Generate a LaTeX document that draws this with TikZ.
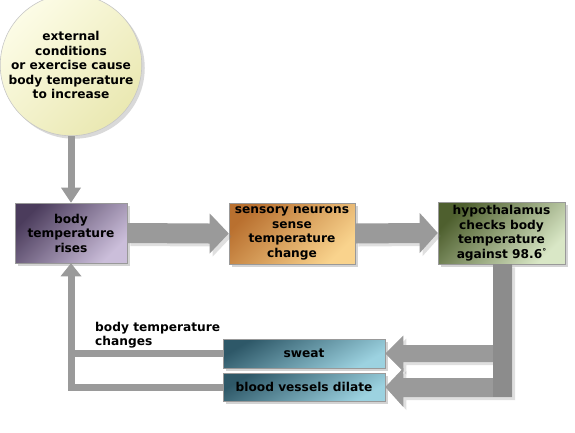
\documentclass[tikz,border=0pt]{standalone}
\usepackage{fontspec}
\setmainfont{DejaVu Sans}
\usetikzlibrary{shadows,calc}
\definecolor{arrowgray}{HTML}{9A9A9A}
\definecolor{stemgray}{HTML}{8C8C8C}
\definecolor{purpleD}{HTML}{4B3C5C}
\definecolor{purpleL}{HTML}{CBBEDA}
\definecolor{orangeD}{HTML}{B9702F}
\definecolor{orangeL}{HTML}{F9D38D}
\definecolor{greenD}{HTML}{4E5F2E}
\definecolor{greenL}{HTML}{D9E7C6}
\definecolor{tealD}{HTML}{2E5868}
\definecolor{tealL}{HTML}{9CD2E0}
\definecolor{yellowL}{HTML}{FCFCE6}
\definecolor{yellowD}{HTML}{EAE8B2}
\begin{document}
\begin{tikzpicture}[x=1pt,y=-1pt,
  txt/.style={font=\bfseries\fontsize{12.2}{14.5}\selectfont, align=center, text=black, inner sep=0pt},
  stepbox/.style={txt, draw=gray!80, line width=0.6pt, minimum width=#1, drop shadow={shadow xshift=3pt, shadow yshift=-3pt, opacity=0.35}},
  fatarrow/.style={fill=arrowgray, draw=none, drop shadow={shadow xshift=3pt, shadow yshift=-3pt, opacity=0.25}},
  thinline/.style={draw=arrowgray, line width=7pt},
  thinhead/.style={fill=arrowgray, draw=none}
]
\useasboundingbox (0,0) rectangle (575,432);

% circle
\node[txt, circle, draw=gray!45, line width=0.6pt, minimum size=127pt,
  left color=yellowL, right color=yellowD, shading angle=45,
  drop shadow={shadow xshift=3pt, shadow yshift=-3pt, opacity=0.3}]
  (start) at (71,65) {external\\conditions\\or exercise cause\\body temperature\\to increase};

% boxes
\node[stepbox=112pt, minimum height=60pt, left color=purpleD, right color=purpleL, shading angle=45]
  (rise) at (71,233) {body\\temperature\\rises};
\node[stepbox=126pt, minimum height=61pt, left color=orangeD, right color=orangeL, shading angle=45]
  (sense) at (292,233.5) {sensory neurons\\sense\\temperature\\change};
\node[stepbox=127pt, minimum height=62pt, left color=greenD, right color=greenL, shading angle=45]
  (hypo) at (501.5,233) {hypothalamus\\checks body\\temperature\\against 98.6\raisebox{0.5ex}{\fontsize{8}{8}\selectfont °}};
\node[stepbox=162pt, minimum height=29pt, left color=tealD, right color=tealL, shading angle=30]
  (sweat) at (304,353.5) {sweat};
\node[stepbox=162pt, minimum height=28pt, left color=tealD, right color=tealL, shading angle=30]
  (dilate) at (304,387) {blood vessels dilate};

% thin arrow from circle to rise
\draw[thinline] (start.south) -- ($(rise.north)+(0,-14)$);
\fill[thinhead] ($(rise.north)+(-10,-15)$) -- (rise.north) -- ($(rise.north)+(10,-15)$) -- cycle;

% fat arrow rise -> sense
\path[fatarrow] ($(rise.east)+(0,-10)$) -- ($(sense.west)+(-19,-10)$) -- ($(sense.west)+(-19,-20)$)
  -- (sense.west) -- ($(sense.west)+(-19,20)$) -- ($(sense.west)+(-19,10)$) -- ($(rise.east)+(0,10)$) -- cycle;
% fat arrow sense -> hypo
\path[fatarrow] ($(sense.east)+(0,-10)$) -- ($(hypo.west)+(-18,-10)$) -- ($(hypo.west)+(-18,-20)$)
  -- (hypo.west) -- ($(hypo.west)+(-18,20)$) -- ($(hypo.west)+(-18,10)$) -- ($(sense.east)+(0,10)$) -- cycle;

% big arrow from hypo down to sweat and dilate
\coordinate (stemL) at ($(hypo.south)+(-8.5,0)$);
\coordinate (stemR) at ($(hypo.south)+(10.5,0)$);
\path[fatarrow] (stemL) -- (stemR) -- (stemR |- 0,397) -- ($(dilate.east)+(18,10)$) -- ($(dilate.east)+(18,20)$)
  -- (dilate.east) -- ($(dilate.east)+(18,-19)$) -- ($(dilate.east)+(18,-9)$) -- (stemL |- 0,378) -- cycle;
\path[fatarrow] (stemL |- 0,345) -- (stemL |- 0,362) -- ($(sweat.east)+(18,8.5)$) -- ($(sweat.east)+(18,18)$)
  -- (sweat.east) -- ($(sweat.east)+(18,-18)$) -- ($(sweat.east)+(18,-8.5)$) -- cycle;
\fill[stemgray] (stemL) rectangle (stemR |- 0,397);

% thin feedback arrows
\draw[thinline] (sweat.west) -- (sweat.west -| rise.south);
\draw[thinline] (dilate.west) -| ($(rise.south)+(0,13)$);
\fill[thinhead] ($(rise.south)+(-10.5,13)$) -- (rise.south) -- ($(rise.south)+(10.5,13)$) -- cycle;

\node[txt, align=left, anchor=north west] (lbl) at (95,322) {body temperature\\changes};
\end{tikzpicture}
\end{document}
